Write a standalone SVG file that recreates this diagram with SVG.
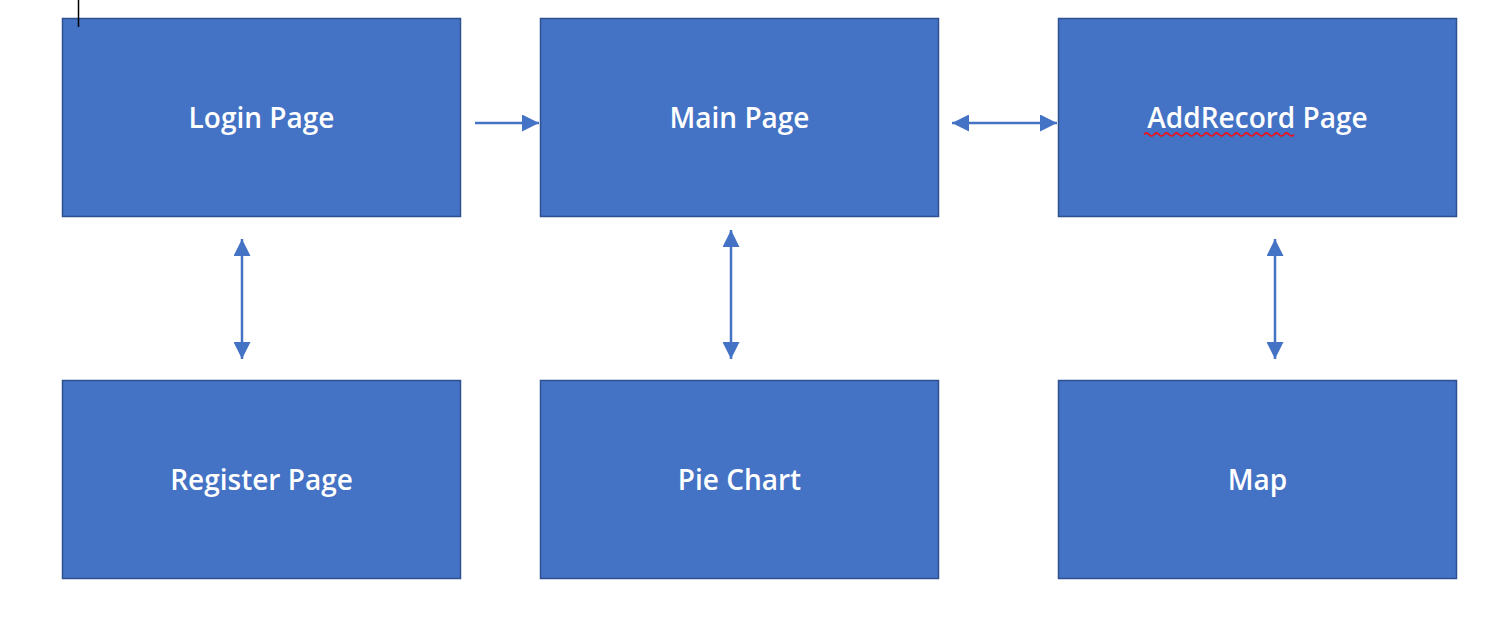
<svg xmlns="http://www.w3.org/2000/svg" width="1510" height="630" viewBox="0 0 1510 630">
<style>
.box{fill:#4472C4;stroke:#2F528F;stroke-width:1.5}
.lbl{fill:#FFFFFF;font-family:"Open Sans","Noto Sans","Liberation Sans",sans-serif;font-size:28px;font-weight:600;text-anchor:middle}
.con{stroke:#4472C4;stroke-width:2.5;fill:none}
</style>
<defs>
<marker id="ah" viewBox="0 0 10 10" refX="10" refY="5" markerWidth="6.8" markerHeight="6.8" orient="auto-start-reverse" markerUnits="strokeWidth">
<path d="M0,0 L10,5 L0,10 Z" fill="#4472C4"/>
</marker>
</defs>
<rect width="1510" height="630" fill="#FFFFFF"/>
<g id="login"><rect class="box" x="62.5" y="18.5" width="398" height="198"/><text class="lbl" x="261.5" y="128">Login Page</text></g>
<g id="main"><rect class="box" x="540.5" y="18.5" width="398" height="198"/><text class="lbl" x="739.5" y="128">Main Page</text></g>
<g id="addrecord"><rect class="box" x="1058.5" y="18.5" width="398" height="198"/><text class="lbl" x="1257.5" y="128">AddRecord Page</text>
<path d="M1144,134.5 q2.5,-3 5,0 t5,0 t5,0 t5,0 t5,0 t5,0 t5,0 t5,0 t5,0 t5,0 t5,0 t5,0 t5,0 t5,0 t5,0 t5,0 t5,0 t5,0 t5,0 t5,0 t5,0 t5,0 t5,0 t5,0 t5,0 t5,0 t5,0 t5,0 t5,0 t5,0" fill="none" stroke="#E8141E" stroke-width="1.8"/></g>
<g id="register"><rect class="box" x="62.5" y="380.5" width="398" height="198"/><text class="lbl" x="261.5" y="490">Register Page</text></g>
<g id="piechart"><rect class="box" x="540.5" y="380.5" width="398" height="198"/><text class="lbl" x="739.5" y="490">Pie Chart</text></g>
<g id="map"><rect class="box" x="1058.5" y="380.5" width="398" height="198"/><text class="lbl" x="1257.5" y="490">Map</text></g>
<line x1="78.5" y1="0" x2="78.5" y2="27" stroke="#000" stroke-width="1.5"/>
<g id="connectors">
<line class="con" x1="475" y1="123" x2="539" y2="123" marker-end="url(#ah)"/>
<line class="con" x1="952" y1="123" x2="1057" y2="123" marker-start="url(#ah)" marker-end="url(#ah)"/>
<line class="con" x1="242" y1="239" x2="242" y2="359" marker-start="url(#ah)" marker-end="url(#ah)"/>
<line class="con" x1="731" y1="230" x2="731" y2="359" marker-start="url(#ah)" marker-end="url(#ah)"/>
<line class="con" x1="1275" y1="239" x2="1275" y2="359" marker-start="url(#ah)" marker-end="url(#ah)"/>
</g>
</svg>
